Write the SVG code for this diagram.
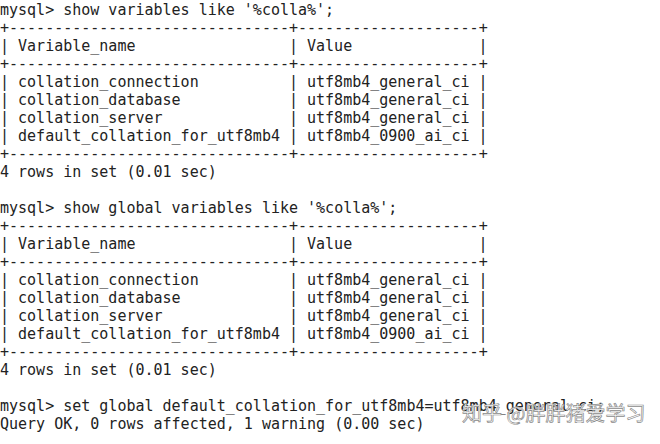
<svg xmlns="http://www.w3.org/2000/svg" width="660" height="444" viewBox="0 0 660 444">
<style>
text{font-family:"DejaVu Sans Mono","Liberation Mono",monospace;font-size:15px;fill:#222;}
.wm{font-family:"Noto Sans CJK SC","Noto Sans",sans-serif;font-size:20px;fill:#fff;stroke:#8a8a8a;stroke-width:0.7px;}
</style>
<defs>
<text id="p" x="0" y="0">|</text>
</defs>
<rect width="660" height="444" fill="#fff"/>
<g transform="translate(0,1)">
<g id="query1">
<text x="0" y="14">mysql&gt; show variables like '%colla%';</text>
</g>
<g id="table1">
<text x="0" y="32">+-------------------------------+--------------------+</text>
<use href="#p" x="0" y="50"/><use href="#p" x="288.96" y="50"/><use href="#p" x="478.59" y="50"/>
<text x="18.06" y="50">Variable_name</text>
<text x="307.02" y="50">Value</text>
<text x="0" y="68">+-------------------------------+--------------------+</text>
<use href="#p" x="0" y="86"/><use href="#p" x="288.96" y="86"/><use href="#p" x="478.59" y="86"/>
<text x="18.06" y="86">collation_connection</text>
<text x="307.02" y="86">utf8mb4_general_ci</text>
<use href="#p" x="0" y="104"/><use href="#p" x="288.96" y="104"/><use href="#p" x="478.59" y="104"/>
<text x="18.06" y="104">collation_database</text>
<text x="307.02" y="104">utf8mb4_general_ci</text>
<use href="#p" x="0" y="122"/><use href="#p" x="288.96" y="122"/><use href="#p" x="478.59" y="122"/>
<text x="18.06" y="122">collation_server</text>
<text x="307.02" y="122">utf8mb4_general_ci</text>
<use href="#p" x="0" y="140"/><use href="#p" x="288.96" y="140"/><use href="#p" x="478.59" y="140"/>
<text x="18.06" y="140">default_collation_for_utf8mb4</text>
<text x="307.02" y="140">utf8mb4_0900_ai_ci</text>
<text x="0" y="158">+-------------------------------+--------------------+</text>
<text x="0" y="176">4 rows in set (0.01 sec)</text>
</g>
<g id="query2">
<text x="0" y="212">mysql&gt; show global variables like '%colla%';</text>
</g>
<g id="table2">
<text x="0" y="230">+-------------------------------+--------------------+</text>
<use href="#p" x="0" y="248"/><use href="#p" x="288.96" y="248"/><use href="#p" x="478.59" y="248"/>
<text x="18.06" y="248">Variable_name</text>
<text x="307.02" y="248">Value</text>
<text x="0" y="266">+-------------------------------+--------------------+</text>
<use href="#p" x="0" y="284"/><use href="#p" x="288.96" y="284"/><use href="#p" x="478.59" y="284"/>
<text x="18.06" y="284">collation_connection</text>
<text x="307.02" y="284">utf8mb4_general_ci</text>
<use href="#p" x="0" y="302"/><use href="#p" x="288.96" y="302"/><use href="#p" x="478.59" y="302"/>
<text x="18.06" y="302">collation_database</text>
<text x="307.02" y="302">utf8mb4_general_ci</text>
<use href="#p" x="0" y="320"/><use href="#p" x="288.96" y="320"/><use href="#p" x="478.59" y="320"/>
<text x="18.06" y="320">collation_server</text>
<text x="307.02" y="320">utf8mb4_general_ci</text>
<use href="#p" x="0" y="338"/><use href="#p" x="288.96" y="338"/><use href="#p" x="478.59" y="338"/>
<text x="18.06" y="338">default_collation_for_utf8mb4</text>
<text x="307.02" y="338">utf8mb4_0900_ai_ci</text>
<text x="0" y="356">+-------------------------------+--------------------+</text>
<text x="0" y="374">4 rows in set (0.01 sec)</text>
</g>
<g id="query3">
<text x="0" y="410">mysql&gt; set global default_collation_for_utf8mb4=utf8mb4_general_ci;</text>
<text x="0" y="428">Query OK, 0 rows affected, 1 warning (0.00 sec)</text>
</g>
<g id="watermark">
<text class="wm" x="462" y="420">知乎 @胖胖猪爱学习</text>
</g>
</g>
</svg>
